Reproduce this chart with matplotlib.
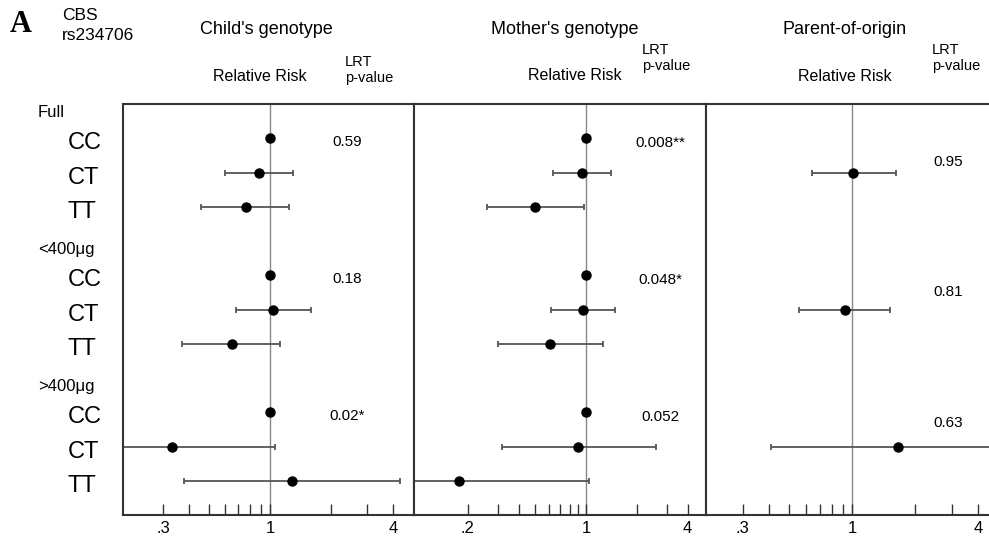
import matplotlib
matplotlib.use('Agg')
import matplotlib.pyplot as plt
import numpy as np
from matplotlib.ticker import NullLocator
from matplotlib.transforms import blended_transform_factory

plt.rcParams['font.family'] = ['Liberation Sans', 'DejaVu Sans']

# data (relative risk and 95% CI, log scale)
rows = np.array([0, 1, 2, 4, 5, 6, 8, 9, 10])
genotypes = ['CC', 'CT', 'TT'] * 3
groups = ['Full', '<400μg', '>400μg']

child_rr = np.array([1, 0.88, 0.76, 1, 1.03, 0.65, 1, 0.33, 1.28])
child_lo = np.array([np.nan, 0.60, 0.46, np.nan, 0.68, 0.37, np.nan, 0.10, 0.38])
child_hi = np.array([np.nan, 1.30, 1.24, np.nan, 1.59, 1.12, np.nan, 1.06, 4.34])
child_p = ['0.59', '0.18', '0.02*']

mother_rr = np.array([1, 0.95, 0.50, 1, 0.96, 0.61, 1, 0.90, 0.177])
mother_lo = np.array([np.nan, 0.64, 0.26, np.nan, 0.62, 0.30, np.nan, 0.32, 0.05])
mother_hi = np.array([np.nan, 1.41, 0.97, np.nan, 1.49, 1.26, np.nan, 2.59, 1.04])
mother_p = ['0.008**', '0.048*', '0.052']

poo_rows = np.array([1, 5, 9])
poo_rr = np.array([1.01, 0.93, 1.66])
poo_lo = np.array([0.64, 0.56, 0.41])
poo_hi = np.array([1.62, 1.52, 6.0])
poo_p = ['0.95', '0.81', '0.63']

W, H = 989, 539
fig = plt.figure(figsize=(W / 100, H / 100), dpi=100)


def px(x, y):
    return x / W, 1 - y / H


def make_ax(x0, x1, xlim, ticks, labels):
    ax = fig.add_axes([x0 / W, (H - 515) / H, (x1 - x0) / W, 411 / H])
    ax.set_xscale('log')
    ax.set_xlim(xlim)
    ax.set_ylim(11, -1)
    ax.set_yticks([])
    ax.set_xticks(ticks, labels)
    ax.xaxis.set_minor_locator(NullLocator())
    ax.tick_params(axis='x', direction='in', length=8, width=1, pad=4,
                   labelsize=12, color='#333')
    ax.axvline(1, color='#888', lw=1, zorder=1)
    for s in ax.spines.values():
        s.set_color('#333')
        s.set_linewidth(1.5)
    return ax


t1 = [.3, .4, .5, .6, .7, .8, .9, 1, 2, 3, 4]
l1 = ['.3', '', '', '', '', '', '', '1', '', '', '4']
t2 = [.2] + t1
l2 = ['.2', '', '', '', '', '', '', '', '1', '', '', '4']

ax1 = make_ax(123, 414, (0.190, 5.08), t1, l1)
ax2 = make_ax(414, 706, (0.096, 5.13), t2, l2)
ax3 = make_ax(706, 989, (0.20, 4.52), t1, l1)
ax3.spines['right'].set_visible(False)


def draw(ax, y, rr, lo, hi):
    m = ~np.isnan(lo)
    ax.errorbar(rr[m], y[m], xerr=[rr[m] - lo[m], hi[m] - rr[m]], fmt='none',
                ecolor='#555', elinewidth=1.3, capsize=2.5, capthick=1.3, zorder=2)
    ax.plot(rr, y, 'o', color='black', ms=6.5, zorder=3)


draw(ax1, rows, child_rr, child_lo, child_hi)
draw(ax2, rows, mother_rr, mother_lo, mother_hi)
draw(ax3, poo_rows, poo_rr, poo_lo, poo_hi)

# p-values
for i, p in enumerate(child_p):
    ax1.text(2.38, 4 * i + 0.1, p, ha='center', va='center', fontsize=11)
for i, p in enumerate(mother_p):
    ax2.text(2.74, 4 * i + 0.15, p, ha='center', va='center', fontsize=11)
for p, yy in zip(poo_p, [0.7, 4.5, 8.3]):
    ax3.text(2.88, yy, p, ha='center', va='center', fontsize=11)

# row and group labels
tr = blended_transform_factory(fig.transFigure, ax1.transData)
for r, g in zip(rows, genotypes):
    ax1.text(68 / W, r + 0.15, g, transform=tr, ha='left', va='center',
             fontsize=17, clip_on=False)
for i, g in enumerate(groups):
    ax1.text(38 / W, 4 * i - 0.75, g, transform=tr, ha='left', va='center',
             fontsize=12, clip_on=False)

# headers
fig.text(*px(21, 25), 'A', family='Liberation Serif', fontweight='bold',
         fontsize=22, ha='center', va='center')
fig.text(*px(62, 15), 'CBS', fontsize=12.5, ha='left', va='center')
fig.text(*px(62, 35), 'rs234706', fontsize=12.5, ha='left', va='center')

for x, t in [(266, "Child's genotype"), (565, "Mother's genotype"),
             (845, 'Parent-of-origin')]:
    fig.text(*px(x, 29), t, fontsize=13, ha='center', va='center')
for x, y in [(260, 77), (575, 75), (845, 77)]:
    fig.text(*px(x, y), 'Relative Risk', fontsize=11.5, ha='center', va='center')
for x, y in [(345, 62), (642, 50), (932, 50)]:
    fig.text(*px(x, y), 'LRT', fontsize=10.5, ha='left', va='center')
    fig.text(*px(x, y + 16), 'p-value', fontsize=10.5, ha='left', va='center')

fig.savefig('out.png', dpi=100)
